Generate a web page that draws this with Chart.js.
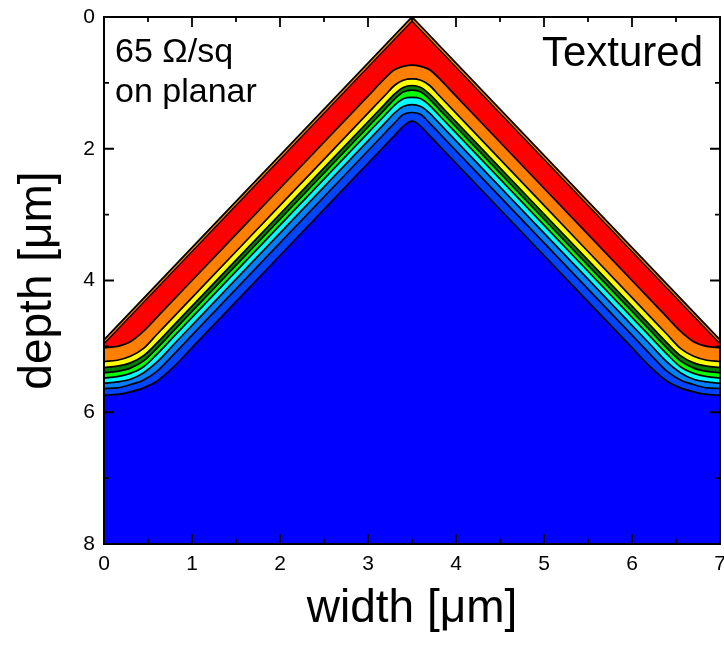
<!DOCTYPE html>
<html><head><meta charset="utf-8">
<script src="https://cdn.jsdelivr.net/npm/chart.js@4.4.1/dist/chart.umd.min.js"></script>
<style>html,body{margin:0;padding:0;background:#fff;overflow:hidden}</style>
</head><body>
<canvas id="c" width="724" height="645"></canvas>
<script>
// ---- data (depth in µm, width in µm) ----
const X = [0, 0.15, 0.3, 0.45, 0.6, 0.8, 1.0, 2.0, 3.0, 3.2, 3.3, 3.4, 3.5, 3.6, 3.7, 3.8, 4.0, 5.0, 6.0, 6.2, 6.4, 6.55, 6.7, 6.85, 7.0];
const SURFACE_X = [0, 3.5, 7];
const SURFACE_D = [4.9, 0, 4.9];
const SLIVER_D  = [4.96, 0.06, 4.96];
const C1 = [5.02,5.00,4.93,4.77,4.56,4.28,4.00,2.60,1.20,0.92,0.80,0.75,0.73,0.75,0.80,0.92,1.20,2.60,4.00,4.28,4.56,4.77,4.93,5.00,5.02];
const C2 = [5.23,5.21,5.15,5.03,4.82,4.54,4.26,2.86,1.46,1.18,1.04,0.96,0.94,0.96,1.04,1.18,1.46,2.86,4.26,4.54,4.82,5.03,5.15,5.21,5.23];
const C3 = [5.32,5.30,5.25,5.14,4.95,4.67,4.39,2.99,1.59,1.31,1.17,1.07,1.04,1.07,1.17,1.31,1.59,2.99,4.39,4.67,4.95,5.14,5.25,5.30,5.32];
const C4 = [5.40,5.38,5.33,5.22,5.03,4.75,4.47,3.07,1.67,1.39,1.25,1.14,1.11,1.14,1.25,1.39,1.67,3.07,4.47,4.75,5.03,5.22,5.33,5.38,5.40];
const C5 = [5.48,5.46,5.41,5.31,5.12,4.84,4.56,3.16,1.76,1.48,1.34,1.24,1.22,1.24,1.34,1.48,1.76,3.16,4.56,4.84,5.12,5.31,5.41,5.46,5.48];
const C6 = [5.56,5.54,5.50,5.40,5.24,4.96,4.68,3.28,1.88,1.60,1.46,1.36,1.33,1.36,1.46,1.60,1.88,3.28,4.68,4.96,5.24,5.40,5.50,5.54,5.56];
const C7 = [5.64,5.63,5.58,5.51,5.38,5.11,4.83,3.43,2.03,1.75,1.61,1.48,1.45,1.48,1.61,1.75,2.03,3.43,4.83,5.11,5.38,5.51,5.58,5.63,5.64];
const C8 = [5.74,5.73,5.69,5.63,5.53,5.30,5.02,3.62,2.22,1.94,1.80,1.66,1.58,1.66,1.80,1.94,2.22,3.62,5.02,5.30,5.53,5.63,5.69,5.73,5.74];
const X_TICKS = [0,1,2,3,4,5,6,7];
const X_MINOR = [0.5,1.5,2.5,3.5,4.5,5.5,6.5];
const Y_TICKS = [0,2,4,6,8];
const Y_MINOR = [1,3,5,7];

// ---- styles ----
const FONT = "'Liberation Sans', Arial, sans-serif";
const BAND_COLORS = ['#ff8000','#ff0000','#ff8000','#ffff00','#008000','#00ff00','#00ffff','#0080ff','#0044ff','#0000ff'];

const curves = [
  {xs: SURFACE_X, ds: SURFACE_D, w: 1.8},
  {xs: SURFACE_X, ds: SLIVER_D, w: 1.3},
  {xs: X, ds: C1, w: 1.7}, {xs: X, ds: C2, w: 1.7}, {xs: X, ds: C3, w: 1.7}, {xs: X, ds: C4, w: 1.7},
  {xs: X, ds: C5, w: 1.7}, {xs: X, ds: C6, w: 1.7}, {xs: X, ds: C7, w: 1.7}, {xs: X, ds: C8, w: 1.7}
];
const datasets = curves.map((c, i) => ({
  data: c.xs.map((x, j) => ({x: x, y: c.ds[j]})),
  showLine: true,
  pointRadius: 0,
  borderColor: '#000',
  borderWidth: c.w,
  borderJoinStyle: 'round',
  backgroundColor: BAND_COLORS[i],
  fill: {value: 8},
  cubicInterpolationMode: c.xs === X ? 'monotone' : 'default',
  tension: 0,
  order: curves.length - i
}));

const frame = {
  id: 'frame',
  beforeDraw(chart) {
    const ctx = chart.ctx;
    ctx.save(); ctx.fillStyle = '#fff'; ctx.fillRect(0, 0, chart.width, chart.height); ctx.restore();
  },
  afterDraw(chart) {
    const ctx = chart.ctx, a = chart.chartArea, xs = chart.scales.x, ys = chart.scales.y;
    ctx.save();
    ctx.strokeStyle = '#000';
    ctx.lineWidth = 2;
    ctx.strokeRect(a.left, a.top, a.right - a.left, a.bottom - a.top);
    ctx.lineWidth = 1.8;
    ctx.beginPath();
    const tx = (v, len) => { const p = xs.getPixelForValue(v);
      ctx.moveTo(p, a.bottom); ctx.lineTo(p, a.bottom - len);
      ctx.moveTo(p, a.top); ctx.lineTo(p, a.top + len); };
    const ty = (v, len) => { const p = ys.getPixelForValue(v);
      ctx.moveTo(a.left, p); ctx.lineTo(a.left + len, p);
      ctx.moveTo(a.right, p); ctx.lineTo(a.right - len, p); };
    X_TICKS.forEach(v => tx(v, 10)); X_MINOR.forEach(v => tx(v, 5));
    Y_TICKS.forEach(v => ty(v, 10)); Y_MINOR.forEach(v => ty(v, 5));
    ctx.stroke();
    ctx.fillStyle = '#000';
    ctx.font = '34px ' + FONT;
    ctx.textAlign = 'left'; ctx.textBaseline = 'alphabetic';
    ctx.fillText('65 \u03A9/sq', a.left + 11, 62);
    ctx.fillText('on planar', a.left + 11, 102);
    ctx.font = '42px ' + FONT;
    ctx.textAlign = 'right';
    ctx.fillText('Textured', a.right - 17, 66);
    ctx.restore();
  }
};

new Chart(document.getElementById('c'), {
  type: 'scatter',
  data: {datasets},
  options: {
    responsive: false,
    animation: false,
    devicePixelRatio: 1,
    layout: {padding: {top: 17, right: 4, bottom: 0, left: 0}},
    plugins: {legend: {display: false}, tooltip: {enabled: false}},
    scales: {
      x: {
        type: 'linear', min: 0, max: 7, position: 'bottom',
        afterBuildTicks: s => { s.ticks = X_TICKS.map(v => ({value: v})); },
        afterFit: s => { s.height = 101; s.paddingLeft = 0; s.paddingRight = 0; },
        grid: {display: false, drawTicks: false}, border: {display: false},
        ticks: {font: {family: FONT, size: 21}, color: '#000', padding: 8, maxRotation: 0, autoSkip: false},
        title: {display: true, text: 'width [\u03BCm]', font: {family: FONT, size: 46}, color: '#000', padding: {top: 0, bottom: 8}}
      },
      y: {
        type: 'linear', min: 0, max: 8, reverse: true, position: 'left',
        afterBuildTicks: s => { s.ticks = Y_TICKS.map(v => ({value: v})); },
        afterFit: s => { s.width = 104; s.paddingTop = 0; s.paddingBottom = 0; },
        grid: {display: false, drawTicks: false}, border: {display: false},
        ticks: {font: {family: FONT, size: 21}, color: '#000', padding: 9, autoSkip: false},
        title: {display: true, text: 'depth [\u03BCm]', font: {family: FONT, size: 46}, color: '#000', padding: {top: 11, bottom: 0}}
      }
    }
  },
  plugins: [frame]
});
</script>
</body></html>
